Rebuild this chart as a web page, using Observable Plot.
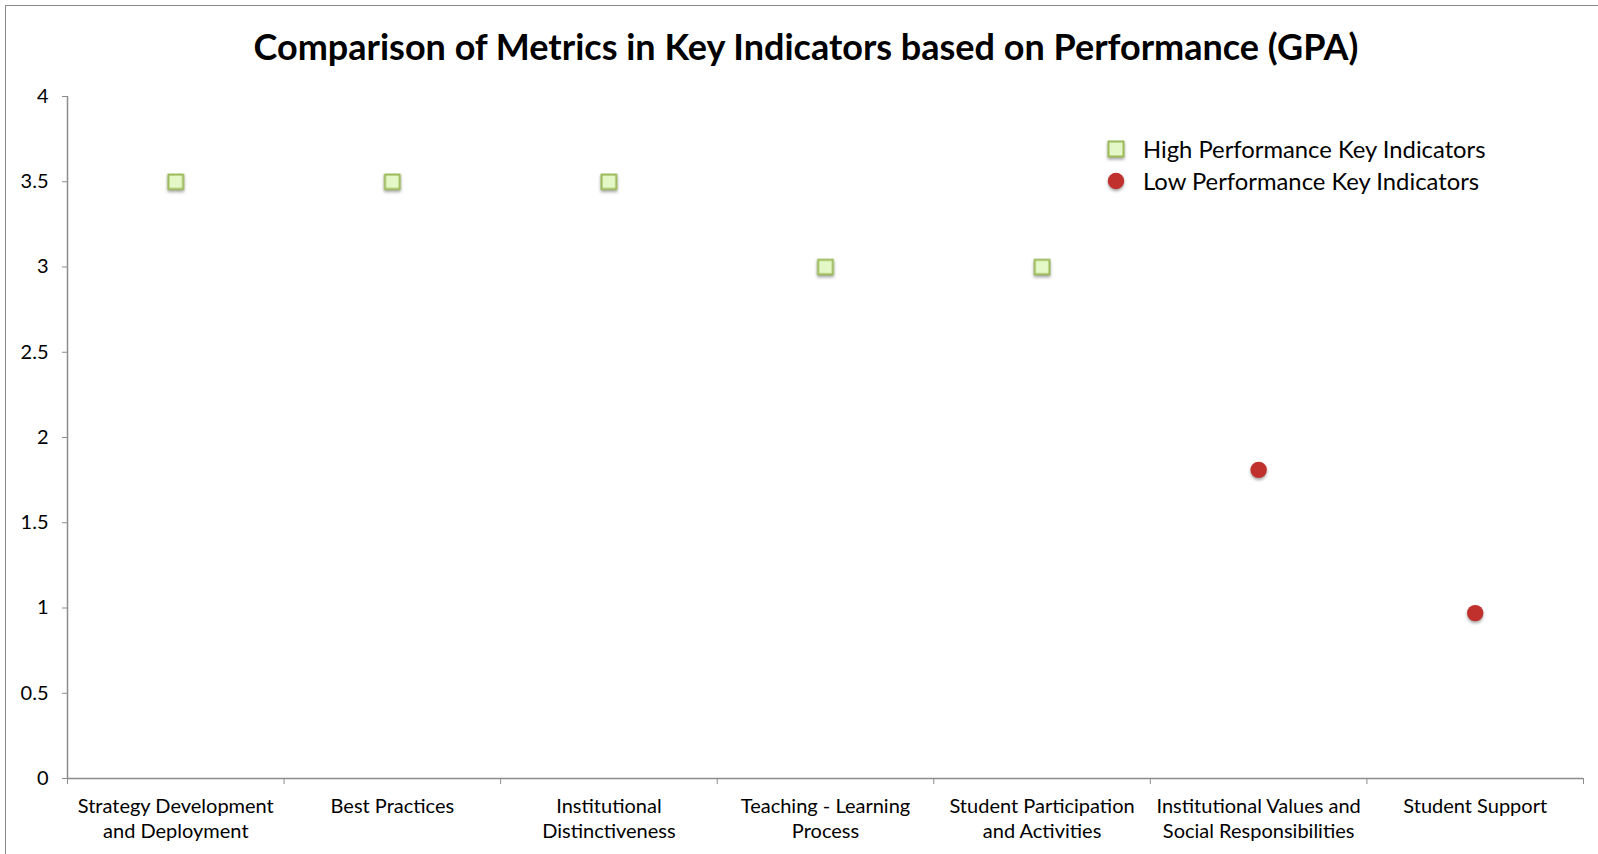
<!DOCTYPE html>
<html>
<head>
<meta charset="utf-8">
<script src="https://cdn.jsdelivr.net/npm/d3@7"></script>
<script src="https://cdn.jsdelivr.net/npm/@observablehq/plot@0.6"></script>
<style>
  html, body { margin: 0; padding: 0; background: #fff; overflow: hidden; }
  #wrap { position: relative; width: 1598px; height: 854px; overflow: hidden; font-family: Lato, "Open Sans", sans-serif; color: #000; }
  #frame { position: absolute; left: 5px; top: 5px; width: 2000px; height: 2000px; border: 1.5px solid #8a8a8a; }
  #title { position: absolute; left: 0; width: 1612px; top: 23px; text-align: center; font-weight: bold; font-size: 36px; line-height: 46px; white-space: nowrap; }
  #chart { position: absolute; left: 0; top: 0; }
  #legend { position: absolute; left: 1104px; top: 133px; font-size: 23.8px; line-height: 32px; white-space: nowrap; }
  #legend .item { display: flex; align-items: center; height: 32px; }
  #legend svg { width: 24px; height: 24px; margin-right: 15px; overflow: visible; }
  .shadow { filter: drop-shadow(0px 2px 1.5px rgba(0,0,0,0.35)); }
</style>
</head>
<body>
<div id="wrap">
  <div id="frame"></div>
  <div id="chart"></div>
  <div id="title"></div>
  <div id="legend"></div>
</div>
<script>
// ---- data ----
const categories = [
  "Strategy Development and Deployment",
  "Best Practices",
  "Institutional Distinctiveness",
  "Teaching - Learning Process",
  "Student Participation and Activities",
  "Institutional Values and Social Responsibilities",
  "Student Support"
];
const tickLabels = [
  "Strategy Development\nand Deployment",
  "Best Practices",
  "Institutional\nDistinctiveness",
  "Teaching - Learning\nProcess",
  "Student Participation\nand Activities",
  "Institutional Values and\nSocial Responsibilities",
  "Student Support"
];
const highValues = [3.5, 3.5, 3.5, 3.0, 3.0, null, null];
const lowValues  = [null, null, null, null, null, 1.81, 0.97];
const yTicks = [0, 0.5, 1, 1.5, 2, 2.5, 3, 3.5, 4];
const seriesNames = ["High Performance Key Indicators", "Low Performance Key Indicators"];
const titleText = "Comparison of Metrics in Key Indicators based on Performance (GPA)";

// ---- styles ----
const axisGray = "#8c8c8c";
const highFill = "#e3f8c6", highStroke = "#9bbb59";
const lowFill = "#c0312d";

const rows = categories.map((c, i) => ({
  category: c,
  pos: i + 0.5,
  label: tickLabels[i],
  high: highValues[i],
  low: lowValues[i]
}));

document.getElementById("title").textContent = titleText;

const plot = Plot.plot({
  width: 1598,
  height: 854,
  marginLeft: 67,
  marginRight: 15,
  marginTop: 96,
  marginBottom: 76,
  style: { fontFamily: "Lato, 'Open Sans', sans-serif", fontSize: "20px", color: "#000", background: "transparent", overflow: "visible" },
  x: { domain: [0, categories.length], axis: null },
  y: { domain: [0, 4], axis: null },
  marks: [
    Plot.ruleY([0], { stroke: axisGray, strokeWidth: 1.5 }),
    Plot.ruleX([0], { stroke: axisGray, strokeWidth: 1.5 }),
    Plot.axisY({ ticks: yTicks, tickSize: 5, tickPadding: 14, stroke: axisGray, fill: "#000", tickFormat: d => String(d), fontSize: 20, label: null }),
    Plot.axisX({ ticks: d3.range(categories.length + 1), tickSize: 6, stroke: axisGray, tickFormat: () => "", label: null }),
    Plot.text(rows, { x: "pos", y: () => 0, text: "label", lineAnchor: "top", dy: 16, lineHeight: 1.27, fontSize: 20, fill: "#000" }),
    Plot.dot(rows.filter(d => d.high != null), { x: "pos", y: "high", symbol: "square", r: 8.3, fill: highFill, stroke: highStroke, strokeWidth: 2, className: "shadow" }),
    Plot.dot(rows.filter(d => d.low != null), { x: "pos", y: "low", symbol: "circle", r: 8.2, fill: lowFill, stroke: "none", className: "shadow" })
  ]
});
document.getElementById("chart").appendChild(plot);

// legend
const legend = document.getElementById("legend");
const mk = (name, kind) => {
  const item = document.createElement("div");
  item.className = "item";
  const shape = kind === "square"
    ? `<rect x="4.5" y="4.5" width="15" height="15" fill="${highFill}" stroke="${highStroke}" stroke-width="2"/>`
    : `<circle cx="12" cy="12" r="8.2" fill="${lowFill}"/>`;
  item.innerHTML = `<svg class="shadow" viewBox="0 0 24 24">${shape}</svg><span>${name}</span>`;
  legend.appendChild(item);
};
mk(seriesNames[0], "square");
mk(seriesNames[1], "circle");
</script>
</body>
</html>
